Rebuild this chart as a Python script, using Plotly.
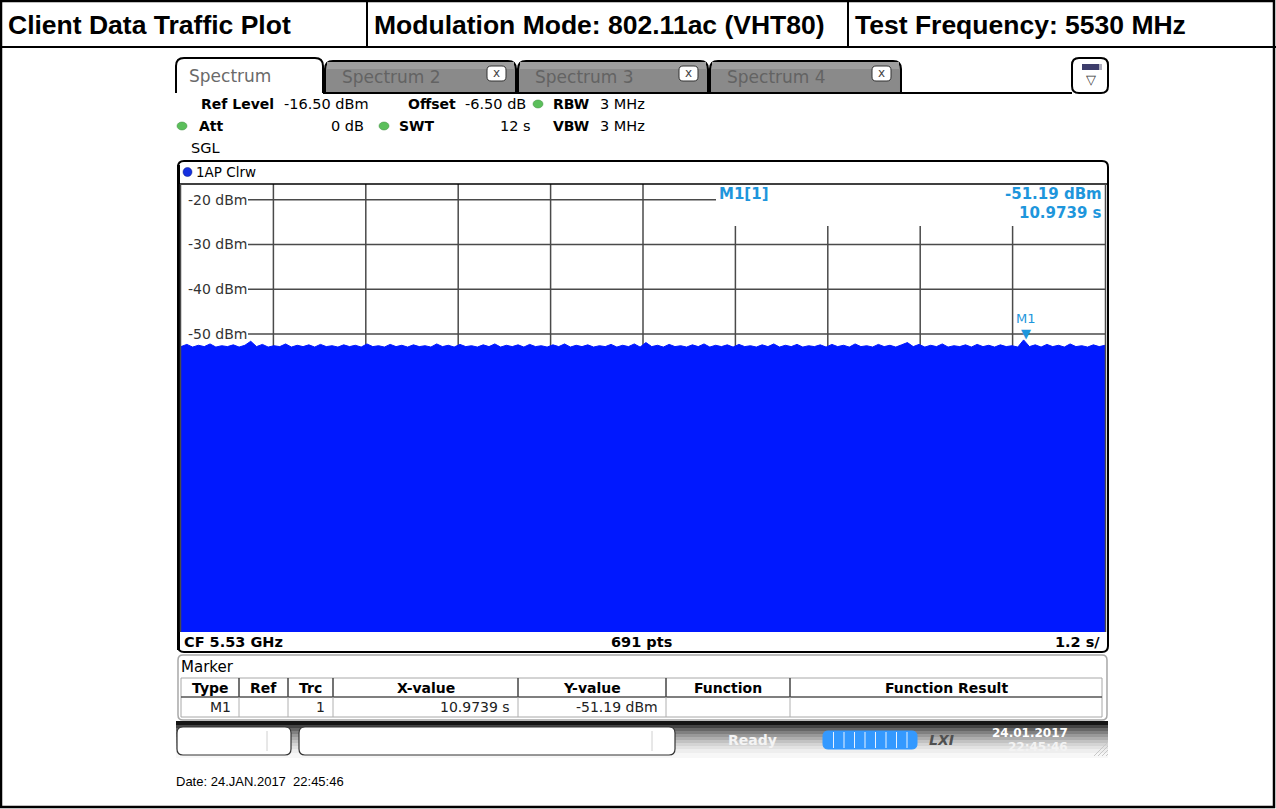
import numpy as np
import plotly.graph_objects as go

# ---------------- data ----------------
TITLE_CELLS = ["Client Data Traffic Plot", "Modulation Mode: 802.11ac (VHT80)", "Test Frequency: 5530 MHz"]
TABS = ["Spectrum", "Spectrum 2", "Spectrum 3", "Spectrum 4"]
X_RANGE = [0, 12]            # seconds (SWT 12 s, 1.2 s/div)
Y_RANGE = [-116.5, -16.5]    # dBm (ref level -16.5 dBm, 10 dB/div)
X_GRID = [1.2, 2.4, 3.6, 4.8, 6.0, 7.2, 8.4, 9.6, 10.8]
Y_GRID = [-20, -30, -40, -50, -60, -70, -80, -90, -100, -110]
Y_LABELS = ["-20 dBm", "-30 dBm", "-40 dBm", "-50 dBm"]

NOISE_DBM = [
    -52.8, -52.3, -52.9, -52.5, -52.8, -52.2, -52.9, -52.6, -52.8, -52.4,
    -52.9, -52.5, -51.6, -52.8, -52.3, -52.9, -52.6, -52.8, -52.2, -52.9,
    -52.5, -52.8, -52.4, -52.9, -52.3, -52.8, -52.6, -52.9, -52.4, -52.8,
    -52.5, -52.9, -52.2, -52.8, -52.6, -52.9, -52.3, -52.8, -52.5, -52.9,
    -52.4, -52.8, -52.6, -52.9, -52.2, -52.8, -52.5, -52.9, -52.3, -52.8,
    -52.6, -52.9, -52.4, -52.8, -52.2, -52.9, -52.5, -52.8, -52.4, -52.9,
    -52.3, -52.8, -52.6, -52.9, -52.4, -52.8, -52.2, -52.9, -52.5, -52.8,
    -52.4, -52.9, -52.6, -52.8, -52.3, -52.9, -52.5, -52.8, -52.2, -52.9,
    -51.9, -52.8, -52.5, -52.9, -52.3, -52.8, -52.6, -52.9, -52.4, -52.8,
    -52.2, -52.9, -52.5, -52.8, -52.4, -52.9, -52.3, -52.8, -52.6, -52.9,
    -52.4, -52.8, -52.2, -52.9, -52.5, -52.8, -52.3, -52.9, -52.6, -52.8,
    -52.4, -52.9, -52.3, -52.8, -52.5, -52.9, -52.2, -52.8, -52.6, -52.9,
    -52.3, -52.8, -52.5, -52.9, -52.4, -51.9, -52.8, -52.3, -52.9, -52.5,
    -52.8, -52.2, -52.9, -52.6, -52.8, -52.4, -52.9, -52.3, -52.8, -52.5,
    -52.9, -52.4, -52.8, -52.6, -52.9, -51.3, -52.8, -52.4, -52.9, -52.3,
    -52.8, -52.5, -52.9, -52.2, -52.8, -52.6, -52.9, -52.4, -52.8, -52.5,
]
M1_X, M1_Y = 10.9739, -51.19

INFO_ROW1 = [("Ref Level", True), ("-16.50 dBm", False), ("Offset", True), ("-6.50 dB", False), ("RBW", True), ("3 MHz", False)]
INFO_ROW2 = [("Att", True), ("0 dB", False), ("SWT", True), ("12 s", False), ("VBW", True), ("3 MHz", False)]
TABLE_HEADERS = ["Type", "Ref", "Trc", "X-value", "Y-value", "Function", "Function Result"]
TABLE_ROW = ["M1", "", "1", "10.9739 s", "-51.19 dBm", "", ""]
FOOTER = ["CF 5.53 GHz", "691 pts", "1.2 s/"]
DATE_TEXT = "Date: 24.JAN.2017  22:45:46"

# ---------------- geometry helpers (pixel -> paper) ----------------
W, H = 1276, 809
PL, PR, PT, PB = 181, 1105, 184, 632


def X(px):
    return (px - PL) / (PR - PL)


def Y(py):
    return (PB - py) / (PB - PT)


def p(x, y):
    return f"{X(x):.5f},{Y(y):.5f}"


shapes = []
annots = []


def line(x0, y0, x1, y1, color="black", w=1.0, layer="above"):
    shapes.append(dict(type="line", xref="paper", yref="paper", x0=X(x0), y0=Y(y0), x1=X(x1), y1=Y(y1),
                       line=dict(color=color, width=w), layer=layer))


def rect(x0, y0, x1, y1, fill=None, color=None, w=0, layer="above"):
    shapes.append(dict(type="rect", xref="paper", yref="paper", x0=X(x0), y0=Y(y0), x1=X(x1), y1=Y(y1),
                       fillcolor=fill if fill else "rgba(0,0,0,0)",
                       line=dict(color=color if color else "rgba(0,0,0,0)", width=w), layer=layer))


def rrect(x0, y0, x1, y1, r, fill=None, color="black", w=1.0, layer="above"):
    d = (f"M{p(x0 + r, y0)} L{p(x1 - r, y0)} Q{p(x1, y0)} {p(x1, y0 + r)} L{p(x1, y1 - r)} "
         f"Q{p(x1, y1)} {p(x1 - r, y1)} L{p(x0 + r, y1)} Q{p(x0, y1)} {p(x0, y1 - r)} L{p(x0, y0 + r)} "
         f"Q{p(x0, y0)} {p(x0 + r, y0)} Z")
    shapes.append(dict(type="path", xref="paper", yref="paper", path=d,
                       fillcolor=fill if fill else "rgba(0,0,0,0)",
                       line=dict(color=color, width=w), layer=layer))


def tab(x0, y0, x1, y1, r, fill=None, color="black", w=2.0, closed=True):
    d = (f"M{p(x0, y1)} L{p(x0, y0 + r)} Q{p(x0, y0)} {p(x0 + r, y0)} L{p(x1 - r, y0)} "
         f"Q{p(x1, y0)} {p(x1, y0 + r)} L{p(x1, y1)}")
    if closed:
        d += " Z"
    shapes.append(dict(type="path", xref="paper", yref="paper", path=d,
                       fillcolor=fill if fill else "rgba(0,0,0,0)",
                       line=dict(color=color, width=w), layer="above"))


def txt(s, x, y, size=14, color="black", bold=False, anchor="left", family="DejaVu Sans", italic=False):
    t = s
    if bold:
        t = f"<b>{t}</b>"
    if italic:
        t = f"<i>{t}</i>"
    annots.append(dict(text=t, x=X(x), y=Y(y), xref="paper", yref="paper", xanchor=anchor, yanchor="middle",
                       showarrow=False, borderpad=0, font=dict(size=size, color=color, family=family)))


# ---------------- figure ----------------
fig = go.Figure()
fig.add_trace(go.Scatter(x=X_RANGE, y=[Y_RANGE[0], Y_RANGE[0]], mode="lines", line=dict(width=0),
                         hoverinfo="skip", showlegend=False))
t = np.linspace(X_RANGE[0], X_RANGE[1], len(NOISE_DBM))
fig.add_trace(go.Scatter(x=t, y=NOISE_DBM, mode="lines", fill="tonexty", fillcolor="#0018FF",
                         line=dict(color="#0018FF", width=1), showlegend=False, name="1AP Clrw"))

BLUE_TXT = "#1E96DC"
GRID_C = "#4a4a4a"

# grid lines (data coords)
for g in Y_GRID:
    xe = 716 if g == -20 else PR
    shapes.append(dict(type="line", xref="paper", yref="y", x0=X(248), x1=X(xe), y0=g, y1=g,
                       line=dict(color=GRID_C, width=1.5), layer="below"))
for k, g in enumerate(X_GRID):
    ytop = Y_RANGE[1] if g < 6.5 else Y_RANGE[1] - (226 - PT) / (PB - PT) * (Y_RANGE[1] - Y_RANGE[0])
    shapes.append(dict(type="line", xref="x", yref="y", x0=g, x1=g, y0=Y_RANGE[0], y1=ytop,
                       line=dict(color=GRID_C, width=1.5), layer="below"))
for lab, g in zip(Y_LABELS, Y_GRID):
    annots.append(dict(text=lab, x=X(187), y=g, xref="paper", yref="y", xanchor="left", yanchor="middle",
                       showarrow=False, borderpad=0, font=dict(size=14, color="#333", family="DejaVu Sans")))

# marker M1
annots.append(dict(text="▼", x=M1_X, y=M1_Y, xref="x", yref="y", xanchor="center", yanchor="bottom",
                   showarrow=False, yshift=-3, borderpad=0, font=dict(size=13, color=BLUE_TXT, family="DejaVu Sans")))
annots.append(dict(text="M1", x=M1_X, y=M1_Y, xref="x", yref="y", xanchor="center", yanchor="bottom",
                   showarrow=False, yshift=12, borderpad=0, font=dict(size=13, color=BLUE_TXT, family="DejaVu Sans")))
txt("M1[1]", 718, 194, 15, BLUE_TXT, bold=True)
txt(f"{M1_Y:.2f} dBm", 1103, 194, 15, BLUE_TXT, bold=True, anchor="right")
txt(f"{M1_X:.4f} s", 1103, 213, 15, BLUE_TXT, bold=True, anchor="right")

# ---------------- outer document frame & header ----------------
rect(1, 1, 1274, 807, color="black", w=2.5)
line(367, 0, 367, 47, w=2)
line(848, 0, 848, 47, w=2)
line(0, 47, 1276, 47, w=2)
for s, x0 in zip(TITLE_CELLS, [7, 373, 854]):
    txt(s, x0, 25, 26.5, "black", bold=True, family="Liberation Sans")

# ---------------- tabs ----------------
line(323, 93, 1072, 93, w=2)
tab(176, 58, 323, 93, 8, fill="white", w=2, closed=False)
txt(TABS[0], 188, 76, 17, "#6a6a6a")
for i, (x0, x1) in enumerate([(325, 516), (518, 708), (710, 901)]):
    tab(x0, 61, x1, 93, 8, fill="#8a8a8a", w=2)
    rect(x0 + 2, 62, x1 - 2, 69, fill="#9e9e9e", layer="above")
    txt(TABS[i + 1], x0 + 16, 77, 17, "#636363")
    rrect(x1 - 29, 66, x1 - 10, 81, 4, fill="white", color="#333", w=1)
    txt("x", x1 - 19.5, 73, 12, "#444", anchor="center")
rrect(1072, 58, 1108, 93, 7, fill="white", color="black", w=2)
rect(1082, 64, 1099, 70, fill="#3d3d6b", layer="above")
rect(1099, 64, 1102, 70, fill="#b0b0c0", layer="above")
txt("▽", 1091, 80, 13, "#333", anchor="center")

# ---------------- settings info ----------------
INFO_X1 = [200, 283, 407, 464, 552, 599]
INFO_X2 = [198, 365, 398, 532, 552, 599]
for (s, b), x0 in zip(INFO_ROW1, INFO_X1):
    txt(s, x0, 104, 14 if b else 14.5, "black", bold=b)
for (s, b), x0 in zip(INFO_ROW2, INFO_X2):
    anchor = "right" if s in ("0 dB", "12 s") else "left"
    txt(s, x0, 126, 14 if b else 14.5, "black", bold=b, anchor=anchor)
txt("SGL", 190, 148, 14.5)
for cx, cy in [(538, 104), (182, 126), (384, 126)]:
    shapes.append(dict(type="circle", xref="paper", yref="paper", x0=X(cx - 5), x1=X(cx + 5), y0=Y(cy + 4),
                       y1=Y(cy - 4), fillcolor="#5bbf5b", line=dict(color="#3a8a3a", width=0.5), layer="above"))

# ---------------- trace window ----------------
rrect(178, 161, 1108, 652, 6, color="black", w=2)
line(178.5, 165, 178.5, 650, w=3)
line(178, 184, 1108, 184, w=1.5)
line(PL - 0.5, 184, PL - 0.5, 632, color=GRID_C, w=1.5)
line(PR + 0.5, 184, PR + 0.5, 632, color=GRID_C, w=1.5)
shapes.append(dict(type="circle", xref="paper", yref="paper", x0=X(183), x1=X(192), y0=Y(176.5), y1=Y(167.5),
                   fillcolor="#1530e0", line=dict(color="#0a1a80", width=0.5), layer="above"))
txt("1AP Clrw", 195, 172, 13.5)
txt(FOOTER[0], 183, 642, 14.5, bold=True)
txt(FOOTER[1], 641, 642, 14.5, bold=True, anchor="center")
txt(FOOTER[2], 1101, 642, 14.5, bold=True, anchor="right")

# ---------------- marker table ----------------
rrect(178, 655, 1107, 720, 5, fill="white", color="#a8a8a8", w=1.5)
txt("Marker", 180, 667, 15)
COL_X = [181, 239, 288, 333, 518, 666, 790, 1102]
rect(181, 678, 1102, 717, color="#a8a8a8", w=1)
line(181, 697, 1102, 697, color="#555", w=1.5)
for cx in COL_X[1:-1]:
    line(cx, 678, cx, 697, color="#444", w=1.5)
    line(cx, 697, cx, 717, color="#b0b0b0", w=1)
for i, h in enumerate(TABLE_HEADERS):
    txt(h, (COL_X[i] + COL_X[i + 1]) / 2, 688, 14, bold=True, anchor="center")
for i, v in enumerate(TABLE_ROW):
    if v:
        txt(v, COL_X[i + 1] - 7, 707, 14, "#222", anchor="right")

# ---------------- status bar ----------------
stripes = [(721, 725, "#151515"), (725, 728, "#444"), (728, 731, "#666"), (731, 734, "#808080"),
           (734, 737, "#999"), (737, 740, "#aeaeae"), (740, 743, "#c2c2c2"), (743, 746, "#d4d4d4"),
           (746, 749, "#e2e2e2"), (749, 753, "#eeeeee"), (753, 758, "#f7f7f7")]
for y0, y1, c in stripes:
    rect(176, y0, 1108, y1, fill=c)
rrect(177, 727, 291, 755, 6, fill="white", color="#333", w=1.2)
rrect(299, 727, 675, 755, 6, fill="white", color="#333", w=1.2)
line(267, 731, 267, 751, color="#d0d0d0", w=1)
line(652, 731, 652, 751, color="#d0d0d0", w=1)
txt("Ready", 727, 740, 14, "#f4f4f4", bold=True)
rrect(823, 731, 917, 749, 5, fill="#3399ff", color="#3399ff", w=1)
for xd in [833.5, 844, 854.5, 865, 875.5, 886, 896.5, 907]:
    line(xd, 732, xd, 748, color="#e8f2ff", w=1)
txt("LXI", 941, 740, 14, "#505050", bold=True, italic=True, anchor="center")
txt("24.01.2017", 1069, 733, 12, "#ffffff", bold=True, anchor="right")
txt("22:45:46", 1069, 747, 12, "#f3f3f3", bold=True, anchor="right")
for k in range(4):
    line(1094 + 4 * k, 756, 1108, 742 + 4 * k, color="#c8c8c8", w=1)

txt(DATE_TEXT, 175, 781, 13, "black", family="Liberation Sans")

fig.update_layout(
    width=W, height=H,
    margin=dict(l=PL, r=W - PR, t=PT, b=H - PB, pad=0),
    paper_bgcolor="white", plot_bgcolor="white",
    xaxis=dict(range=X_RANGE, visible=False, showgrid=False, zeroline=False, fixedrange=True),
    yaxis=dict(range=Y_RANGE, visible=False, showgrid=False, zeroline=False, fixedrange=True),
    shapes=shapes, annotations=annots, showlegend=False,
)
fig.write_html("out.html", config={"displayModeBar": False, "staticPlot": True},
               post_script="document.body.style.margin='0';document.body.style.overflow='hidden';")
